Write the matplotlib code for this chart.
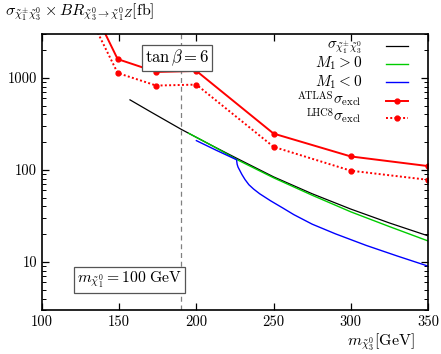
import numpy as np
import matplotlib
matplotlib.use("Agg")
import matplotlib.pyplot as plt
from matplotlib.ticker import FixedLocator, FixedFormatter, NullFormatter, LogLocator

plt.rcParams["font.family"] = "serif"
plt.rcParams["font.serif"] = ["cmr10", "DejaVu Serif"]
plt.rcParams["mathtext.fontset"] = "cm"
plt.rcParams["axes.unicode_minus"] = False

# total cross section (black)
m_sigma = [157, 170, 190, 210, 226, 250, 275, 300, 325, 350]
sigma = [577, 431, 277, 184, 134, 84, 55, 37.5, 26.5, 19.2]

# M1 > 0 (green)
m_pos = [195, 210, 226, 250, 275, 300, 325, 350]
br_pos = [250, 184, 130, 82, 53, 35, 24.2, 16.9]

# M1 < 0 (blue)
m_neg = [200, 213, 226, 226.4, 227, 228.2, 229.5, 231.5, 234, 237, 241, 248, 256,
         263, 275, 290, 310, 330, 350]
br_neg = [208, 163, 129, 115, 107, 98, 89, 78.5, 69, 62, 55, 46.2, 38.5,
          32.7, 25.7, 20.2, 15.1, 11.6, 9.0]

# exclusion limits
m_excl = [130, 149, 174, 200, 250, 300, 350]
atlas_excl = [7200, 1600, 1160, 1190, 248, 140, 110]
lhc8_excl = [5000, 1130, 825, 845, 178, 98, 78]

labels = [r"$\sigma_{\tilde{\chi}_1^{\pm}\tilde{\chi}_3^0}$", r"$M_1>0$", r"$M_1<0$",
          r"$\sigma_{\rm excl}$", r"$\sigma_{\rm excl}$"]
prefixes = [None, None, None, "ATLAS", "LHC8"]

fig = plt.figure(figsize=(4.41, 3.54), dpi=100)
ax = fig.add_axes([0.0952, 0.1243, 0.8753, 0.7797])

dotted = (0, (1, 1.2))
ax.plot(m_sigma, sigma, color="black", lw=0.9)
ax.plot(m_pos, br_pos, color="#00cc00", lw=1.0)
ax.plot(m_neg, br_neg, color="blue", lw=1.0)
ax.plot(m_excl, atlas_excl, color="red", lw=1.4, marker="o", ms=3.5)
ax.plot(m_excl, lhc8_excl, color="red", lw=1.4, ls=dotted, marker="o", ms=3.5)

ax.axvline(190, color="gray", ls=(0, (4, 3)), lw=0.9)

ax.set_yscale("log")
ax.set_xlim(100, 350)
ax.set_ylim(3, 3000)

ax.xaxis.set_major_locator(FixedLocator([100, 150, 200, 250, 300, 350]))
ax.yaxis.set_major_locator(FixedLocator([10, 100, 1000]))
ax.yaxis.set_major_formatter(FixedFormatter(["10", "100", "1000"]))
ax.yaxis.set_minor_locator(LogLocator(base=10, subs=np.arange(2, 10)))
ax.yaxis.set_minor_formatter(NullFormatter())
ax.tick_params(which="both", direction="in", top=True, right=True, labelsize=10.5)
ax.tick_params(which="major", length=5, width=0.9)
ax.tick_params(which="minor", length=3, width=0.7)
ax.tick_params(axis="x", pad=4)
for s in ax.spines.values():
    s.set_linewidth(1.2)

ax.text(187.5, 1650, r"$\tan\beta=6$", ha="center", va="center", fontsize=12, zorder=5,
        bbox=dict(boxstyle="square,pad=0.15", fc="white", ec="#555555", lw=0.9))
ax.text(156.7, 6.37, r"$m_{\tilde{\chi}_1^0}=100\ \mathrm{GeV}$", ha="center", va="center",
        fontsize=11.3, zorder=5,
        bbox=dict(boxstyle="square,pad=0.2", fc="white", ec="#555555", lw=0.9))

fig.text(0.012, 0.965, r"$\sigma_{\tilde{\chi}_1^{\pm}\tilde{\chi}_3^0}\times BR_{\tilde{\chi}_3^0\to\tilde{\chi}_1^0 Z}[\mathrm{fb}]$",
         ha="left", va="center", fontsize=11.5)
fig.text(0.941, 0.033, r"$m_{\tilde{\chi}_3^0}[\mathrm{GeV}]$", ha="right", va="center", fontsize=11.5)

# legend drawn by hand to get the tight row spacing
rows_y = [0.9565, 0.891, 0.825, 0.758, 0.695]
styles = [dict(color="black", lw=0.9), dict(color="#00cc00", lw=1.0), dict(color="blue", lw=1.0),
          dict(color="red", lw=1.4), dict(color="red", lw=1.4, ls=dotted)]
for i, (lab, pre, st, yy) in enumerate(zip(labels, prefixes, styles, rows_y)):
    ax.plot([0.891, 0.948], [yy, yy], transform=ax.transAxes, clip_on=False, **st)
    if i >= 3:
        ax.plot([0.9195], [yy], transform=ax.transAxes, marker="o", ms=3.5, color="red")
    off = 0.0135 if i in (1, 2) else 0.008
    t = ax.text(0.829, yy - off, lab, transform=ax.transAxes, ha="right", va="baseline",
                fontsize=11 if i in (1, 2) else 11)
    if pre:
        ax.annotate(pre, xy=(0, 0.62), xycoords=t, ha="right", va="baseline", fontsize=7.5)

fig.savefig("out.png", dpi=100)
